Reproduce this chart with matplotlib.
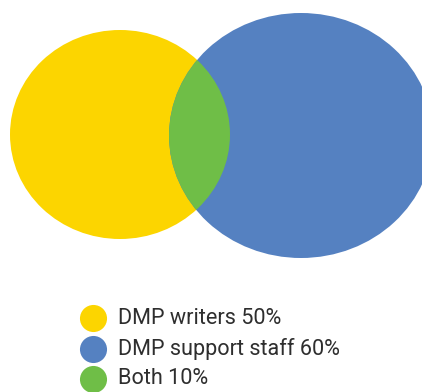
import matplotlib
matplotlib.use("Agg")
import matplotlib.pyplot as plt
from matplotlib.patches import Ellipse

labels = ["DMP writers", "DMP support staff", "Both"]
values = [50, 60, 10]
colors = ["#FCD500", "#5581C1", "#6FBE47"]

W, H = 422, 392
fig = plt.figure(figsize=(W / 100, H / 100), dpi=100)
ax = fig.add_axes([0, 0, 1, 1])
ax.set_xlim(0, W)
ax.set_ylim(H, 0)
ax.axis("off")

# geometry (pixel layout)
yel = dict(xy=(120, 134.5), width=220, height=209)
blu = dict(xy=(301, 135.5), width=264, height=245)

e_y = Ellipse(**yel, facecolor=colors[0], edgecolor="none")
e_b = Ellipse(**blu, facecolor=colors[1], edgecolor="none")
ax.add_patch(e_y)
ax.add_patch(e_b)
e_g = Ellipse(**yel, facecolor=colors[2], edgecolor="none")
ax.add_patch(e_g)
e_g.set_clip_path(e_b)

# legend rows
leg_x, leg_y0, leg_dy = 93, 318, 30.5
for i, (l, v, c) in enumerate(zip(labels, values, colors)):
    y = leg_y0 + i * leg_dy
    ax.plot([leg_x], [y], marker="o", markersize=19.5, markerfacecolor=c,
            markeredgecolor="none", linestyle="none")
    ax.text(leg_x + 25, y, f"{l} {v}%", va="center", ha="left",
            family="Roboto", fontsize=15.6, color="#2e2e2e")

fig.savefig("out.png", dpi=100)
